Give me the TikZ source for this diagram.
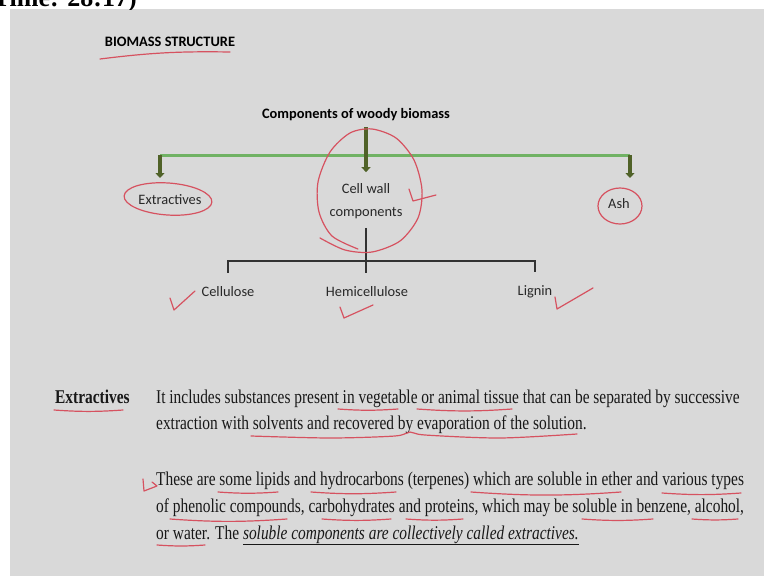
\documentclass[tikz,border=0pt]{standalone}
\usepackage{fontspec}
\setmainfont{Liberation Serif}
\newfontfamily\calib{Carlito}
\newfontfamily\bodyfont[FakeStretch=0.79]{Liberation Serif}
\usetikzlibrary{arrows.meta,calc}
\definecolor{slidebg}{RGB}{217,217,217}
\definecolor{ink}{RGB}{24,24,24}
\definecolor{sansink}{RGB}{40,40,40}
\definecolor{penred}{RGB}{214,82,96}
\definecolor{railgreen}{RGB}{112,178,100}
\definecolor{feedgreen}{RGB}{80,98,40}
\definecolor{brkgray}{RGB}{50,50,50}
\tikzset{
  lbl/.style={font=\calib\fontsize{14.4}{23}\selectfont,text=sansink,inner sep=0pt,align=center},
  hdr/.style={lbl,font=\calib\bfseries\fontsize{14.4}{17}\selectfont,text=black},
  body/.style={font=\bodyfont\fontsize{19.5}{26}\selectfont,text=ink,inner sep=0pt,anchor=base west},
  pen/.style={draw=penred,line width=1.2pt,line cap=round,line join=round},
  brk/.style={draw=brkgray,line width=1.5pt},
  rail/.style={draw=railgreen,line width=3pt},
  feed/.style={draw=feedgreen,line width=3.5pt,-{Triangle[length=5pt,width=9pt]}},
}

\begin{document}
\begin{tikzpicture}[x=1pt,y=-1pt]
  \useasboundingbox (0,0) rectangle (764,576);
  \fill[white] (0,0) rectangle (764,576);
  \fill[slidebg] (10,9) rectangle (764,576);
  % --- cut-off caption above the slide ---
  \begin{scope}
    \clip (0,0) rectangle (764,9);
    \node[anchor=base east,inner sep=0pt,font=\bfseries\fontsize{26}{26}\selectfont] (cap) at (137,6.5) {Time: 28:17)};
  \end{scope}
  % --- tree ---
  \node[hdr] (title) at (170,42) {BIOMASS STRUCTURE};
  \node[hdr] (woody) at (356,115) {Components of woody biomass};
  \node[lbl] (extr) at (170,200) {Extractives};
  \node[lbl] (cell) at (366,201) {Cell wall\\components};
  \node[lbl] (ash) at (619,204) {Ash};
  \node[lbl] (cellu) at (228,292) {Cellulose};
  \node[lbl] (hemi) at (367,292) {Hemicellulose};
  \node[lbl] (lig) at (535,292) {Lignin};
  \coordinate (rl) at (160,155);
  \coordinate (rr) at (630,155);
  \coordinate (ltip) at (160,178);
  \coordinate (rtip) at (630,178);
  \coordinate (bar) at (366,261);
  \draw[rail] (rl) -- (rr);
  \draw[feed] (rl) -- (ltip);
  \draw[feed] (rr) -- (rtip);
  \draw[feed,shorten <=6pt,shorten >=11pt] (woody.south -| cell.north) -- (cell.north);
  \draw[brk,shorten <=9pt,shorten >=14pt] (cell.south) -- (cell.south |- hemi.north);
  \draw[brk] ([yshift=14pt]cellu.north) |- (bar) -| ([yshift=14pt]lig.north);
  % --- text block ---
  \node[body] (lab) at (55,403) {\bfseries Extractives};
  \node[body] (p1) at (156,403) {It includes substances present in vegetable or animal tissue that can be separated by successive};
  \node[body] (p2) at (156,429) {extraction with solvents and recovered by evaporation of the solution.};
  \node[body] (q1) at (156,485) {These are some lipids and hydrocarbons (terpenes) which are soluble in ether and various types};
  \node[body] (q2) at (156,512) {of phenolic compounds, carbohydrates and proteins, which may be soluble in benzene, alcohol,};
  \node[body] (q3) at (156,539) {or water. The \underline{\itshape soluble components are collectively called extractives.}};
  % --- red pen marks ---
  \draw[pen] (100,59) to[bend left=4] (230,52);
  \draw[pen,rotate around={-4:(168,199)}] (168,199) ellipse [x radius=44,y radius=16];
  \draw[pen] plot[smooth] coordinates {(320,238) (345,250) (372,252) (400,241) (418,218) (422,190) (414,160) (396,138) (372,129) (350,133) (330,152) (318,182) (319,212) (332,236) (358,249)};
  \draw[pen] (409,189) -- (413,201) -- (436,195);
  \draw[pen] (620,206) ellipse [x radius=22,y radius=18];
  \draw[pen] (170,298) -- (174,310) -- (195,291);
  \draw[pen] (340,307) -- (344,318) -- (373,305);
  \draw[pen] (555,297) -- (557,309) -- (593,288);
  \draw[pen] (143,479) -- (144,491) -- (157,486) (152,482) -- (157,486);
  \foreach \a/\b/\y in {54/123/410, 338/398/409, 417/512/409,
                         218/278/492, 311/396/492, 471/621/492, 662/741/493,
                         170/287/519, 322/391/519, 406/463/519, 582/653/519, 692/738/519,
                         157/205/545}
    \draw[pen] (\a,\y) to[bend right=4] (\b,\y);
  \draw[pen] plot[smooth] coordinates {(251,436) (330,438) (395,436) (410,432) (425,435) (500,438) (577,434)};
\end{tikzpicture}
\end{document}
